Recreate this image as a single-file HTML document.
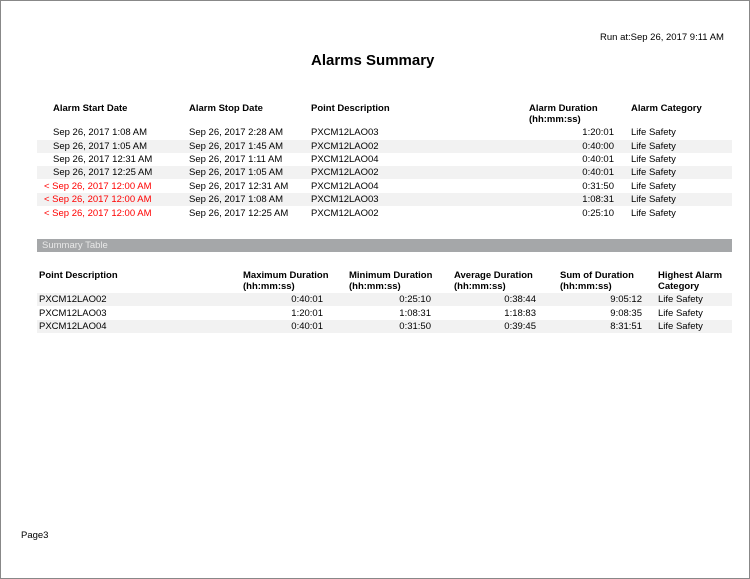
<!DOCTYPE html>
<html><head><style>
body{margin:0;background:#fff;font-family:"Liberation Sans",Arial,sans-serif;color:#000;}
#p{position:relative;width:748px;height:577px;border:1px solid #888;overflow:hidden;background:#fff}
.t{position:absolute;font-size:9.5px;white-space:nowrap;line-height:11px}
.b{font-weight:bold}
.r{text-align:right}
.red{color:#f00}
.s{position:absolute;left:36px;width:695px;height:13px;background:#f2f2f2}
</style></head><body><div id="p">
<div class="t" style="left:599px;top:31px">Run at:Sep 26, 2017 9:11 AM</div>
<div class="t b" style="left:310px;top:51px;font-size:15px;line-height:18px">Alarms Summary</div>

<div class="t b" style="left:52px;top:102px">Alarm Start Date</div>
<div class="t b" style="left:188px;top:102px">Alarm Stop Date</div>
<div class="t b" style="left:310px;top:102px">Point Description</div>
<div class="t b" style="left:528px;top:102px">Alarm Duration<br>(hh:mm:ss)</div>
<div class="t b" style="left:630px;top:102px">Alarm Category</div>

<div class="s" style="top:139px"></div>
<div class="s" style="top:165px"></div>
<div class="s" style="top:192px"></div>

<div class="t" style="left:52px;top:126px">Sep 26, 2017 1:08 AM</div>
<div class="t" style="left:52px;top:140px">Sep 26, 2017 1:05 AM</div>
<div class="t" style="left:52px;top:153px">Sep 26, 2017 12:31 AM</div>
<div class="t" style="left:52px;top:166px">Sep 26, 2017 12:25 AM</div>
<div class="t red" style="left:43px;top:180px">&lt; Sep 26, 2017 12:00 AM</div>
<div class="t red" style="left:43px;top:193px">&lt; Sep 26, 2017 12:00 AM</div>
<div class="t red" style="left:43px;top:207px">&lt; Sep 26, 2017 12:00 AM</div>

<div class="t" style="left:188px;top:126px">Sep 26, 2017 2:28 AM</div>
<div class="t" style="left:188px;top:140px">Sep 26, 2017 1:45 AM</div>
<div class="t" style="left:188px;top:153px">Sep 26, 2017 1:11 AM</div>
<div class="t" style="left:188px;top:166px">Sep 26, 2017 1:05 AM</div>
<div class="t" style="left:188px;top:180px">Sep 26, 2017 12:31 AM</div>
<div class="t" style="left:188px;top:193px">Sep 26, 2017 1:08 AM</div>
<div class="t" style="left:188px;top:207px">Sep 26, 2017 12:25 AM</div>

<div class="t" style="left:310px;top:126px">PXCM12LAO03</div>
<div class="t" style="left:310px;top:140px">PXCM12LAO02</div>
<div class="t" style="left:310px;top:153px">PXCM12LAO04</div>
<div class="t" style="left:310px;top:166px">PXCM12LAO02</div>
<div class="t" style="left:310px;top:180px">PXCM12LAO04</div>
<div class="t" style="left:310px;top:193px">PXCM12LAO03</div>
<div class="t" style="left:310px;top:207px">PXCM12LAO02</div>

<div class="t r" style="left:560px;width:53px;top:126px">1:20:01</div>
<div class="t r" style="left:560px;width:53px;top:140px">0:40:00</div>
<div class="t r" style="left:560px;width:53px;top:153px">0:40:01</div>
<div class="t r" style="left:560px;width:53px;top:166px">0:40:01</div>
<div class="t r" style="left:560px;width:53px;top:180px">0:31:50</div>
<div class="t r" style="left:560px;width:53px;top:193px">1:08:31</div>
<div class="t r" style="left:560px;width:53px;top:207px">0:25:10</div>

<div class="t" style="left:630px;top:126px">Life Safety</div>
<div class="t" style="left:630px;top:140px">Life Safety</div>
<div class="t" style="left:630px;top:153px">Life Safety</div>
<div class="t" style="left:630px;top:166px">Life Safety</div>
<div class="t" style="left:630px;top:180px">Life Safety</div>
<div class="t" style="left:630px;top:193px">Life Safety</div>
<div class="t" style="left:630px;top:207px">Life Safety</div>

<div style="position:absolute;left:36px;top:238px;width:695px;height:13px;background:#a5a7a9"></div>
<div class="t" style="left:41px;top:239px;color:#e8e8e8">Summary Table</div>

<div class="t b" style="left:38px;top:269px">Point Description</div>
<div class="t b" style="left:242px;top:269px">Maximum Duration<br>(hh:mm:ss)</div>
<div class="t b" style="left:348px;top:269px">Minimum Duration<br>(hh:mm:ss)</div>
<div class="t b" style="left:453px;top:269px">Average Duration<br>(hh:mm:ss)</div>
<div class="t b" style="left:559px;top:269px">Sum of Duration<br>(hh:mm:ss)</div>
<div class="t b" style="left:657px;top:269px">Highest Alarm<br>Category</div>

<div class="s" style="top:292px"></div>
<div class="s" style="top:319px"></div>

<div class="t" style="left:38px;top:293px">PXCM12LAO02</div>
<div class="t" style="left:38px;top:307px">PXCM12LAO03</div>
<div class="t" style="left:38px;top:320px">PXCM12LAO04</div>
<div class="t r" style="left:250px;width:72px;top:293px">0:40:01</div>
<div class="t r" style="left:250px;width:72px;top:307px">1:20:01</div>
<div class="t r" style="left:250px;width:72px;top:320px">0:40:01</div>
<div class="t r" style="left:358px;width:72px;top:293px">0:25:10</div>
<div class="t r" style="left:358px;width:72px;top:307px">1:08:31</div>
<div class="t r" style="left:358px;width:72px;top:320px">0:31:50</div>
<div class="t r" style="left:463px;width:72px;top:293px">0:38:44</div>
<div class="t r" style="left:463px;width:72px;top:307px">1:18:83</div>
<div class="t r" style="left:463px;width:72px;top:320px">0:39:45</div>
<div class="t r" style="left:569px;width:72px;top:293px">9:05:12</div>
<div class="t r" style="left:569px;width:72px;top:307px">9:08:35</div>
<div class="t r" style="left:569px;width:72px;top:320px">8:31:51</div>
<div class="t" style="left:657px;top:293px">Life Safety</div>
<div class="t" style="left:657px;top:307px">Life Safety</div>
<div class="t" style="left:657px;top:320px">Life Safety</div>

<div class="t" style="left:20px;top:529px">Page3</div>
</div></body></html>
